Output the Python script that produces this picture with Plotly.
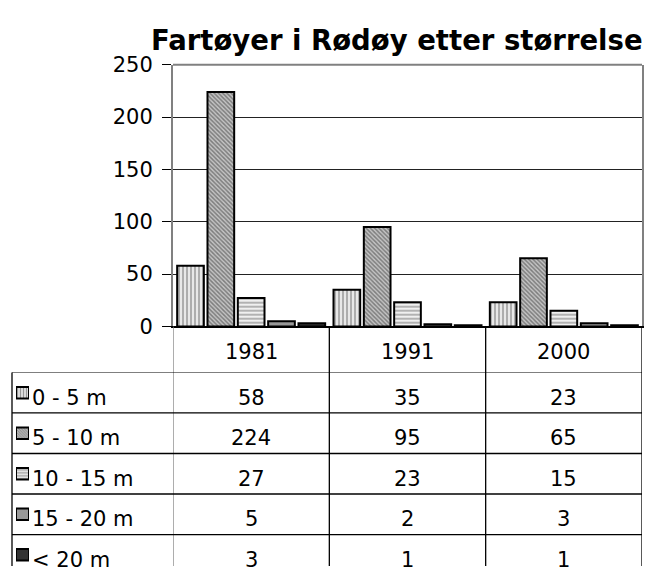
import plotly.graph_objects as go

# ---- data ----
years = ["1981", "1991", "2000"]
series_names = ["0 - 5 m", "5 - 10 m", "10 - 15 m", "15 - 20 m", "< 20 m"]
v_0_5 = [58, 35, 23]
v_5_10 = [224, 95, 65]
v_10_15 = [27, 23, 15]
v_15_20 = [5, 2, 3]
v_over_20 = [3, 1, 1]
series_values = [v_0_5, v_5_10, v_10_15, v_15_20, v_over_20]
y_ticks = [0, 50, 100, 150, 200, 250]
title_text = "Fartøyer i Rødøy etter størrelse"

# ---- styles ----
W, H = 656, 578
FONT = "DejaVu Sans"
pat_shape = ["|", "\\", "-", "", ""]
pat_fg = ["#666666", "#363636", "#666666", "#999999", "#333333"]
pat_bg = ["#e8e8e8", "#c4c4c4", "#f0f0f0", "#999999", "#333333"]
pat_size = [4, 3, 4, 4, 4]
pat_sol = [0.45, 0.5, 0.45, 0.3, 0.3]


def px(x):
    return x / W


def py(y):
    return 1 - y / H


plot_l, plot_r, plot_t, plot_b = 173, 642, 55, 328
row_top = 376
row_h = 42.3
row0_c = row_top + row_h / 2
table_left = 12

fig = go.Figure()

for i, name in enumerate(series_names):
    fig.add_trace(go.Bar(
        x=years, y=series_values[i], name=name, showlegend=False,
        marker=dict(
            color=pat_bg[i],
            line=dict(color="black", width=2),
            pattern=dict(shape=pat_shape[i], fgcolor=pat_fg[i], bgcolor=pat_bg[i],
                         size=pat_size[i], solidity=pat_sol[i], fillmode="overlay"),
        ),
        xaxis="x", yaxis="y",
    ))

# legend keys in the data table (one small bar per series)
key_rows = list(range(len(series_names)))
fig.add_trace(go.Bar(
    x=[1] * len(series_names), y=key_rows, base=0, orientation="h",
    width=12 / row_h, showlegend=False,
    marker=dict(
        color=pat_bg,
        line=dict(color="black", width=2),
        pattern=dict(shape=pat_shape, fgcolor=pat_fg, bgcolor=pat_bg,
                     size=[3, 2, 3, 4, 4], solidity=pat_sol, fillmode="overlay"),
    ),
    xaxis="x2", yaxis="y2", hoverinfo="skip",
))

row_bottom_val = (H - row0_c) / row_h

fig.update_layout(
    width=W, height=H, autosize=False,
    margin=dict(l=0, r=0, t=0, b=0),
    paper_bgcolor="white", plot_bgcolor="white",
    barmode="group", bargap=0.03, bargroupgap=0.12,
    font=dict(family=FONT, size=21, color="black"),
    xaxis=dict(
        domain=[px(plot_l), px(plot_r)], type="category", categoryorder="array",
        categoryarray=years, range=[-0.5, 2.5], showticklabels=False, ticks="",
        showgrid=False, showline=True, linecolor="black", linewidth=1.5,
        zeroline=False, anchor="y", fixedrange=True,
    ),
    yaxis=dict(
        domain=[py(plot_b), py(plot_t)], range=[0, 250], tickvals=y_ticks,
        ticks="outside", ticklen=9, tickcolor="black", tickwidth=1,
        ticklabelstandoff=5,
        showgrid=True, gridcolor="#222222", gridwidth=1,
        showline=True, linecolor="#808080", linewidth=2, mirror=True,
        zeroline=False, anchor="x", fixedrange=True,
        tickfont=dict(family=FONT, size=21, color="black"),
    ),
    xaxis2=dict(domain=[px(16), px(29)], range=[0, 1], visible=False,
                anchor="y2", fixedrange=True),
    yaxis2=dict(domain=[0, py(row_top)], range=[row_bottom_val, -0.5],
                visible=False, anchor="x2", fixedrange=True),
)

shapes = []
# top border of plot area
shapes.append(dict(type="line", xref="paper", yref="paper",
                   x0=px(plot_l), x1=px(plot_r), y0=py(plot_t), y1=py(plot_t),
                   line=dict(color="#808080", width=2)))
# vertical table lines at category boundaries
for j, b in enumerate([-0.5, 0.5, 1.5, 2.5]):
    col = "#808080" if j == 0 else "black"
    shapes.append(dict(type="line", xref="x", yref="paper",
                       x0=b, x1=b, y0=0, y1=py(plot_b),
                       line=dict(color=col, width=1.3)))
# horizontal row lines
for r in range(len(series_names)):
    yb = r - 0.5
    shapes.append(dict(type="line", xref="paper", yref="y2",
                       x0=px(table_left), x1=px(plot_r), y0=yb, y1=yb,
                       line=dict(color="black", width=1.3)))
# left border of the table
shapes.append(dict(type="line", xref="paper", yref="paper",
                   x0=px(table_left), x1=px(table_left), y0=0, y1=py(row_top),
                   line=dict(color="black", width=1.3)))

annotations = []
annotations.append(dict(text=title_text, xref="paper", yref="paper",
                        x=px(397), y=py(29), xanchor="center", yanchor="middle",
                        showarrow=False,
                        font=dict(family=FONT, size=27.5, color="black", weight="bold")))
for k, yr in enumerate(years):
    annotations.append(dict(text=yr, xref="x", yref="paper", x=k,
                            y=py((plot_b + row_top) / 2 + 3), xanchor="center",
                            yanchor="middle", showarrow=False))
for i, name in enumerate(series_names):
    annotations.append(dict(text=name, xref="paper", yref="y2", x=px(30), y=i,
                            xanchor="left", yanchor="middle", yshift=-5,
                            showarrow=False))
    for k in range(len(years)):
        annotations.append(dict(text=str(series_values[i][k]), xref="x", yref="y2",
                                x=k, y=i, xanchor="center", yanchor="middle",
                                yshift=-5, showarrow=False))

fig.update_layout(shapes=shapes, annotations=annotations)
fig.write_html(
    "out.html",
    config={"displayModeBar": False},
    post_script="document.body.style.margin='0';document.body.style.overflow='hidden';",
)
